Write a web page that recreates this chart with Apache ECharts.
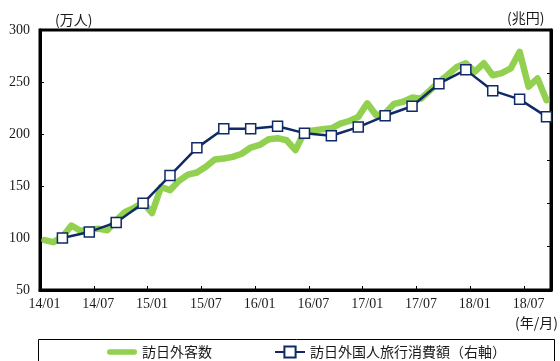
<!DOCTYPE html>
<html>
<head>
<meta charset="utf-8">
<script src="https://cdn.jsdelivr.net/npm/echarts@6/dist/echarts.min.js"></script>
<style>
  html, body { margin: 0; padding: 0; background: #fff; }
  #chart { width: 560px; height: 361px; }
</style>
</head>
<body>
<div id="chart"></div>
<script>
// Months on the category axis (YY/MM)
const months = [
  '14/01','14/02','14/03','14/04','14/05','14/06','14/07','14/08','14/09','14/10','14/11','14/12',
  '15/01','15/02','15/03','15/04','15/05','15/06','15/07','15/08','15/09','15/10','15/11','15/12',
  '16/01','16/02','16/03','16/04','16/05','16/06','16/07','16/08','16/09','16/10','16/11','16/12',
  '17/01','17/02','17/03','17/04','17/05','17/06','17/07','17/08','17/09','17/10','17/11','17/12',
  '18/01','18/02','18/03','18/04','18/05','18/06','18/07','18/08','18/09'
];

// 訪日外客数 (万人), monthly, left axis
const visitors = [
  98, 96, 101, 112, 107, 108, 109, 107.5, 117, 125, 129, 134,
  124, 149, 146, 155, 161, 163, 168.5, 175.5, 176.5, 178, 181, 187,
  189.5, 195, 196, 194, 184.5, 202, 203.5, 204.5, 205.5, 210, 212.5, 216.5,
  229.5, 218, 220, 229, 231, 235, 234, 242, 250, 257, 264.5, 268,
  260, 268, 256.5, 258.5, 263, 279, 245.5, 253.5, 232.5
];

// 訪日外国人旅行消費額 (兆円), quarterly, plotted at the last month of each quarter, right axis
const spendMonths = [
  '14/03','14/06','14/09','14/12','15/03','15/06','15/09','15/12',
  '16/03','16/06','16/09','16/12','17/03','17/06','17/09','17/12',
  '18/03','18/06','18/09'
];
const spending = [
  2.10, 2.17, 2.28, 2.50, 2.82, 3.14, 3.36, 3.36,
  3.39, 3.31, 3.28, 3.38, 3.51, 3.62, 3.88, 4.04,
  3.80, 3.70, 3.50
];

// Axis ranges and legend names
const leftAxis = { min: 50, max: 300, interval: 50 };
const rightAxis = { min: 1.5, max: 4.5, interval: 0.5 };
const seriesNames = ['訪日外客数', '訪日外国人旅行消費額（右軸）'];

const GREEN = '#92D050';
const NAVY = '#0F2A66';
const SERIF = '"Liberation Serif", "DejaVu Serif", serif';
const CJK = '"Noto Sans CJK JP", sans-serif';

const chart = echarts.init(document.getElementById('chart'), null, { renderer: 'canvas' });

chart.setOption({
  animation: false,
  backgroundColor: '#fff',
  grid: {
    left: 40, right: 9, top: 30, bottom: 71,
    show: true, borderColor: '#000', borderWidth: 3, backgroundColor: 'transparent'
  },
  xAxis: {
    type: 'category',
    data: months,
    boundaryGap: true,
    axisLine: { show: true, lineStyle: { color: '#000', width: 3 } },
    axisTick: { show: true, inside: true, interval: 5, length: 4, lineStyle: { color: '#000', width: 1 } },
    axisLabel: {
      interval: 5, margin: 7,
      fontFamily: SERIF, fontSize: 14, color: '#1a1a1a'
    },
    splitLine: { show: false }
  },
  yAxis: [
    {
      type: 'value',
      min: leftAxis.min, max: leftAxis.max, interval: leftAxis.interval,
      axisLine: { show: true, lineStyle: { color: '#000', width: 3 } },
      axisTick: { show: true, inside: true, length: 4, lineStyle: { color: '#000', width: 1 } },
      axisLabel: { margin: 10, fontFamily: SERIF, fontSize: 14, color: '#1a1a1a' },
      splitLine: { show: false }
    },
    {
      type: 'value',
      position: 'right',
      min: rightAxis.min, max: rightAxis.max, interval: rightAxis.interval,
      axisLine: { show: true, lineStyle: { color: '#000', width: 3 } },
      axisTick: { show: true, inside: true, length: 4, lineStyle: { color: '#000', width: 1 } },
      axisLabel: { show: false },
      splitLine: { show: false }
    }
  ],
  legend: {
    left: 102, top: 340,
    itemWidth: 30, itemHeight: 14, itemGap: 62,
    selectedMode: false,
    textStyle: { fontFamily: CJK, fontSize: 14, color: '#1a1a1a' },
    data: [
      { name: seriesNames[0], icon: 'path://M3,0 L31,0 A3,3 0 0 1 31,6 L3,6 A3,3 0 0 1 3,0 Z' },
      { name: seriesNames[1] }
    ]
  },
  graphic: [
    {
      type: 'rect',
      shape: { x: 38.5, y: 339.5, width: 516, height: 40 },
      style: { fill: 'none', stroke: '#000', lineWidth: 1 },
      z: 0
    },
    {
      type: 'text', x: 55, y: 20,
      style: { text: '(万人)', font: '14px ' + CJK, fill: '#1a1a1a', textAlign: 'left', textVerticalAlign: 'middle' }
    },
    {
      type: 'text', x: 507, y: 18,
      style: { text: '(兆円)', font: '14px ' + CJK, fill: '#1a1a1a', textAlign: 'left', textVerticalAlign: 'middle' }
    },
    {
      type: 'text', x: 558, y: 323,
      style: { text: '(年/月)', font: '14px ' + CJK, fill: '#1a1a1a', textAlign: 'right', textVerticalAlign: 'middle' }
    }
  ],
  series: [
    {
      name: seriesNames[0],
      type: 'line',
      yAxisIndex: 0,
      data: visitors,
      symbol: 'none',
      lineStyle: { color: GREEN, width: 6.5, cap: 'round', join: 'round' },
      itemStyle: { color: GREEN },
      z: 2
    },
    {
      name: seriesNames[1],
      type: 'line',
      yAxisIndex: 1,
      data: spendMonths.map((m, i) => [m, spending[i]]),
      symbol: 'rect',
      symbolSize: 10,
      showSymbol: true,
      showAllSymbol: true,
      lineStyle: { color: NAVY, width: 2.5 },
      itemStyle: { color: '#fff', borderColor: NAVY, borderWidth: 1.5 },
      z: 3
    }
  ]
});
</script>
</body>
</html>
